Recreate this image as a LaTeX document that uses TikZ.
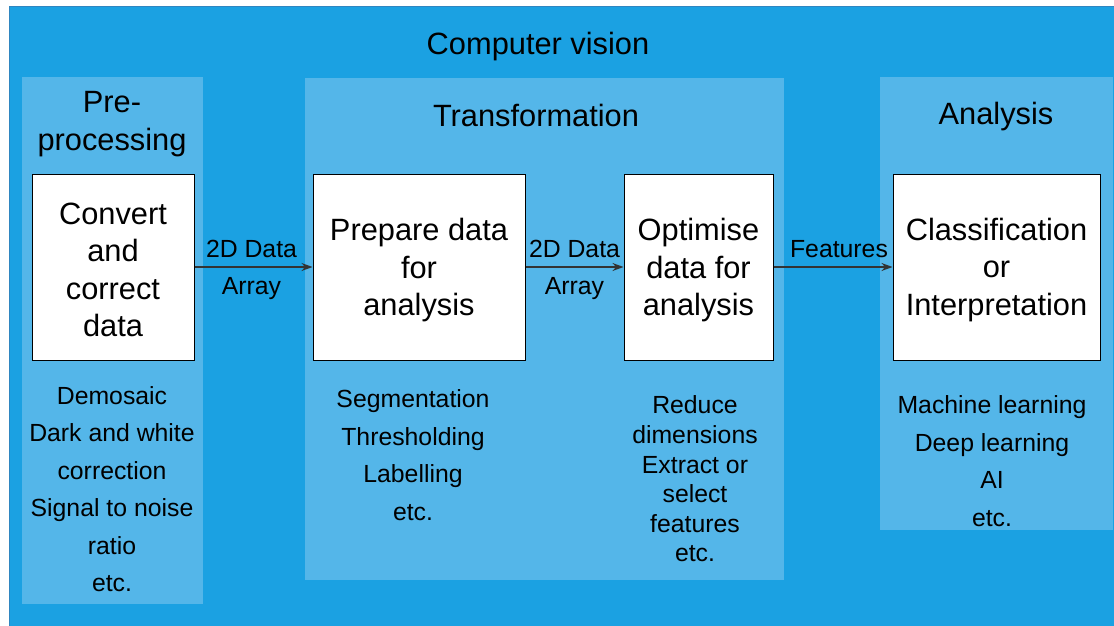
\documentclass[tikz,border=0pt]{standalone}
\usepackage{fontspec}
\setmainfont{Liberation Sans}
\usetikzlibrary{arrows.meta}
\definecolor{cvblue}{HTML}{1BA1E2}
\definecolor{cvedge}{HTML}{2F86C0}
\definecolor{panelblue}{HTML}{54B6E9}
\definecolor{arrowgray}{HTML}{333333}
\tikzset{
  big/.style={font=\fontsize{30.8}{37.5}\selectfont, align=center, inner sep=0pt},
  small/.style={font=\fontsize{24.8}{37.5}\selectfont, align=center, inner sep=0pt},
  panel/.style={fill=panelblue, draw=none},
  stagebox/.style={fill=white, draw=black, line width=1pt},
  flow/.style={draw=arrowgray, line width=1.2pt, -{Stealth[length=11pt,width=8pt]}},
}
\begin{document}
\begin{tikzpicture}[x=1pt, y=-1pt]
  \useasboundingbox (0,0) rectangle (1114,626);
  \fill[white] (0,0) rectangle (1114,626);

  % outer frame
  \path[fill=cvblue, draw=cvedge, line width=1pt] (9,7) rectangle (1125,640);
  \node[big] (title) at (538,47) {Computer vision};

  % stage panels
  \path[panel] (22,77) rectangle (203,604);
  \path[panel] (305,78) rectangle (784,580);
  \path[panel] (880,77) rectangle (1113,530);

  \node[big] (pretitle) at (112,124) {Pre-\\processing};
  \node[big] (trtitle) at (536,115) {Transformation};
  \node[big] (antitle) at (996,117) {Analysis};

  % stage boxes
  \node[stagebox, minimum width=162pt, minimum height=186pt] (conv) at (113,267) {};
  \node[big] at (113,270) {Convert\\and\\correct\\data};
  \node[stagebox, minimum width=212pt, minimum height=186pt] (prep) at (419,267) {};
  \node[big] at (419,270.5) {Prepare data\\for\\analysis};
  \node[stagebox, minimum width=149pt, minimum height=186pt] (opt) at (698.5,267) {};
  \node[big] at (698.5,270.5) {Optimise\\data for\\analysis};
  \node[stagebox, minimum width=207pt, minimum height=186pt] (cls) at (996.5,267) {};
  \node[big] at (996.5,270) {Classification\\or\\Interpretation};

  % connectors
  \draw[flow] (conv.east) -- (prep.west)
    node[midway, small, xshift=-2pt, yshift=-3pt] (l1) {2D Data\\Array};
  \draw[flow] (prep.east) -- (opt.west)
    node[midway, small, yshift=-3pt] (l2) {2D Data\\Array};
  \draw[flow] (opt.east) -- (cls.west)
    node[midway, small, anchor=south, xshift=6pt, yshift=9pt] (l3) {Features};

  % task lists
  \node[small] (prelist) at (112,489) {Demosaic\\Dark and white\\correction\\Signal to noise\\ratio\\etc.};
  \node[small] (preplist) at (413,455) {Segmentation\\Thresholding\\Labelling\\etc.};
  \node[small, font=\fontsize{24.8}{29.6}\selectfont] (optlist) at (695,479) {Reduce\\dimensions\\Extract or\\select\\features\\etc.};
  \node[small] (anlist) at (992,461) {Machine learning\\Deep learning\\AI\\etc.};
\end{tikzpicture}
\end{document}
